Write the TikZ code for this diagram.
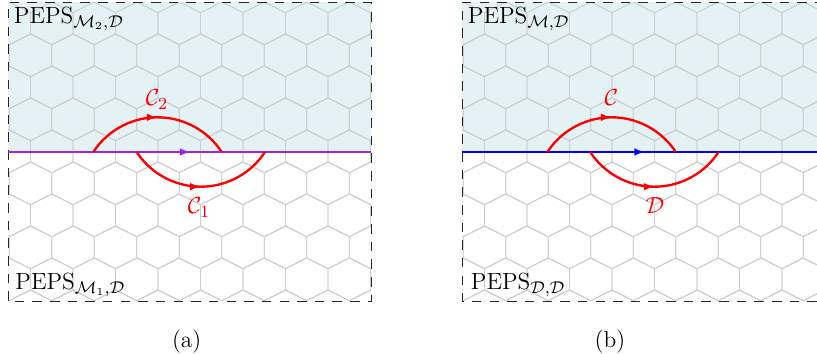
\documentclass[tikz,border=0pt]{standalone}
\usepackage{amsmath}
\usetikzlibrary{arrows.meta,decorations.markings}
\definecolor{paneblue}{RGB}{228,242,246}
\definecolor{hexgray}{RGB}{205,205,205}
\definecolor{ifpurple}{RGB}{153,40,235}
\tikzset{
 hexline/.style={draw=hexgray, line width=0.45pt},
 framebox/.style={draw=black!85, dash pattern=on 4.5pt off 3.8pt, line width=0.45pt},
 cutline/.style={line width=1.2pt, postaction={decorate}, decoration={markings, mark=at position #1 with {\arrow{Latex[length=5pt,width=3.6pt]}}}},
 loopline/.style={draw=red, line width=1.1pt, postaction={decorate}, decoration={markings, mark=at position 0.5 with {\arrow{Latex[length=5pt,width=3.6pt]}}}},
 looplabel/.style={text=red, inner sep=0pt, anchor=base},
 pepslabel/.style={inner sep=0pt, anchor=base west},
 capnode/.style={inner sep=0pt, anchor=base}
}
\newcommand{\hexgrid}[2]{%
 \begin{scope}
  \clip (#1,53) rectangle (#2,351.5);
  \foreach \r in {0,...,9} {
    \pgfmathsetmacro{\cy}{330.65-32*\r}
    \pgfmathsetmacro{\off}{mod(\r,2)*21.25}
    \foreach \j in {-1,...,9} {
      \pgfmathsetmacro{\cx}{#1+43.75+42.5*\j-\off}
      \draw[hexline] (\cx-21.25,\cy+10.67) -- ++(21.25,10.67) -- ++(21.25,-10.67) -- ++(0,-21.33) -- ++(-21.25,-10.67) -- ++(-21.25,10.67) -- cycle;
    }
  }
 \end{scope}}
\begin{document}
\begin{tikzpicture}[x=0.47pt,y=0.47pt,font=\fontsize{11}{13}\selectfont]
\useasboundingbox (0,0) rectangle (817,354);
% ---------- panel (a)
\fill[paneblue] (8,202) rectangle (371,351.5);
\hexgrid{8}{371}
\draw[framebox] (8,53) rectangle (371,351.5);
\coordinate (aL) at (8,202);
\coordinate (aR) at (371,202);
\draw[cutline=0.503, ifpurple] (aL) -- (aR);
\draw[loopline] (157.5,160) ++(146.8:76.7) arc[start angle=146.8,end angle=33.2,radius=76.7];
\draw[loopline] (200.8,244) ++(213.2:76.7) arc[start angle=213.2,end angle=326.8,radius=76.7];
\node[looplabel] (c2) at (157,248) {$\mathcal{C}_2$};
\node[looplabel] (c1) at (199,140) {$\mathcal{C}_1$};
\node[pepslabel] (pa1) at (13.5,330.5) {PEPS$_{\mathcal{M}_2,\mathcal{D}}$};
\node[pepslabel] (pa2) at (15,64) {PEPS$_{\mathcal{M}_1,\mathcal{D}}$};
\node[capnode] (capa) at (186.7,6.3) {(a)};
% ---------- panel (b)
\fill[paneblue] (462,202) rectangle (817,351.5);
\hexgrid{462}{817}
\draw[framebox] (817,53) -- (462,53) -- (462,351.5) -- (817,351.5);
\coordinate (bL) at (462,202);
\coordinate (bR) at (817,202);
\draw[cutline=0.5155, blue] (bL) -- (bR);
\draw[loopline] (611.6,160) ++(146.8:76.7) arc[start angle=146.8,end angle=33.2,radius=76.7];
\draw[loopline] (654.4,244) ++(213.2:76.7) arc[start angle=213.2,end angle=326.8,radius=76.7];
\node[looplabel] (cc) at (611.5,248) {$\mathcal{C}$};
\node[looplabel] (dd) at (655,140.5) {$\mathcal{D}$};
\node[pepslabel] (pb1) at (467.5,330.5) {PEPS$_{\mathcal{M},\mathcal{D}}$};
\node[pepslabel] (pb2) at (470.5,64) {PEPS$_{\mathcal{D},\mathcal{D}}$};
\node[capnode] (capb) at (610,6.3) {(b)};
\end{tikzpicture}
\end{document}
